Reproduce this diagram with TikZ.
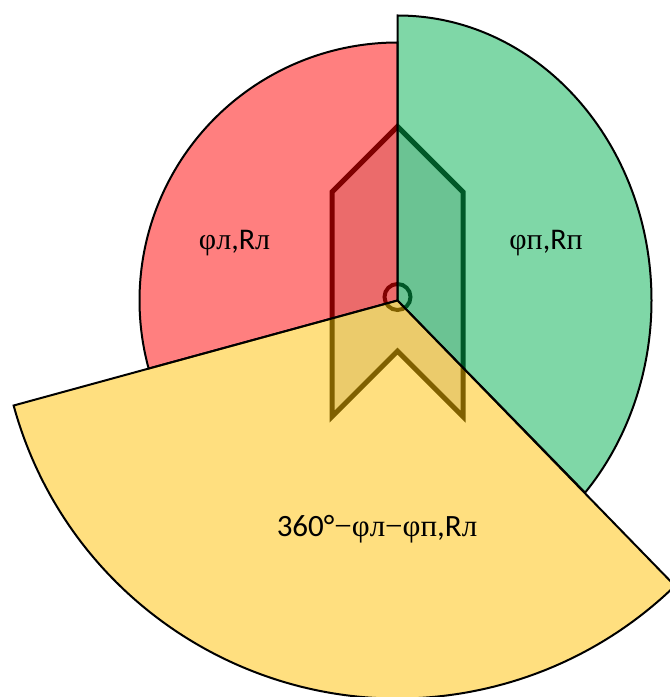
\documentclass[tikz,border=0pt]{standalone}
\usepackage{fontspec}
\setmainfont{Carlito}
\newfontfamily\symserif{Liberation Serif}
\usepackage{tikz}
\usetikzlibrary{calc}
\definecolor{secred}{RGB}{255,0,0}
\definecolor{secgreen}{RGB}{0,176,80}
\definecolor{secyellow}{RGB}{255,192,0}
\definecolor{chevfill}{RGB}{216,216,216}
\newcommand{\phL}{{\symserif φл}}
\newcommand{\phP}{{\symserif φп}}
\newcommand{\subL}{{\symserif л}}
\newcommand{\subP}{{\symserif п}}
\newcommand{\mns}{{\symserif −}}
\tikzset{
  sector/.style  = {draw=black, line width=1pt, fill opacity=0.5, line join=miter},
  chevron/.style = {draw=black, line width=2.5pt, fill=chevfill, line join=miter},
  hub/.style     = {draw=black, line width=2pt},
  seclab/.style  = {font=\fontsize{15}{18}\selectfont, text=black, anchor=base, inner sep=0pt},
}

\begin{document}
\begin{tikzpicture}[x=0.5pt, y=0.5pt]
\useasboundingbox (0,0) rectangle (670,697);
\coordinate (O) at (397.5,396.5);

% ---------- Chevron and hub (under the sectors) ----------
\draw[chevron] ($(O)+(0,174)$) -- ++(65.5,-65.5) -- ++(0,-224.7) -- ++(-65.5,65.5)
  -- ++(-65.5,-65.5) -- ++(0,224.7) -- cycle;
\draw[hub] ($(O)+(0,3.5)$) circle[radius=13];

% ---------- Sectors ----------
\filldraw[sector, fill=secred] (O) -- ++(90:258)
  arc[start angle=90, end angle=195.3, radius=258] -- cycle;
\filldraw[sector, fill=secgreen] (O) -- ++(90:285)
  arc[start angle=90, end angle=-42.4, x radius=254, y radius=285] -- cycle;
\filldraw[sector, fill=secyellow] (O) -- ++(195.3:398)
  arc[start angle=195.3, end angle=314.2, radius=398] -- cycle;

% ---------- Labels ----------
\node[seclab] (labL) at (234.5,447) {\phL,R\subL};
\node[seclab] (labP) at (546,447) {\phP,R\subP};
\node[seclab, font=\fontsize{15.5}{18}\selectfont] (labY) at (377,160)
  {360°\mns\phL\mns\phP,R\subL};

\end{tikzpicture}
\end{document}
